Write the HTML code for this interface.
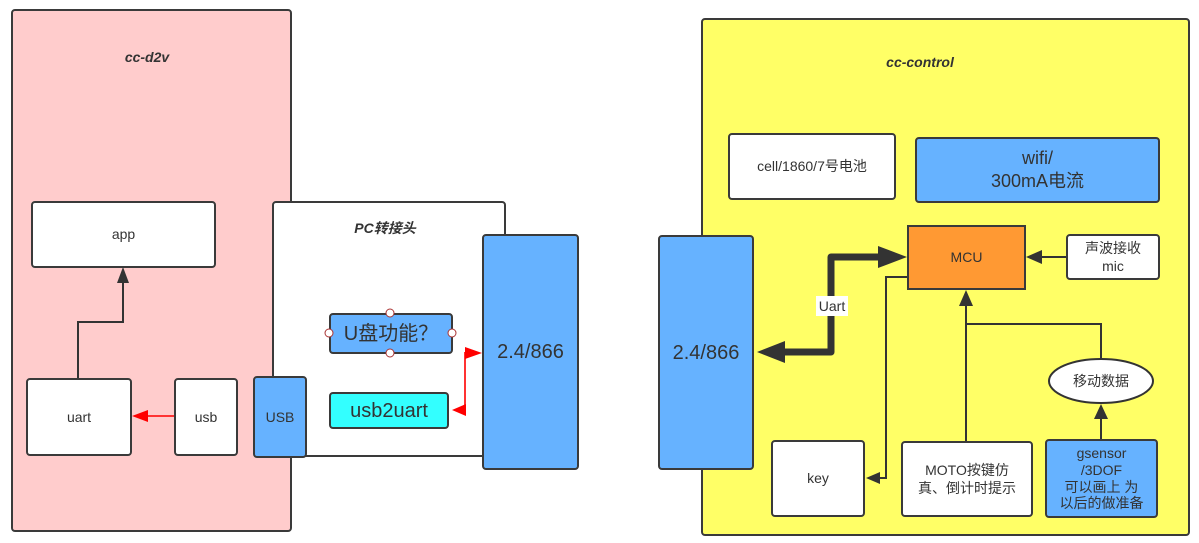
<!DOCTYPE html>
<html><head><meta charset="utf-8"><style>
body{margin:0;width:1199px;height:543px;background:#fff;position:relative;overflow:hidden;font-family:"Liberation Sans","Noto Sans CJK SC",sans-serif;color:#333}
.b{position:absolute;box-sizing:border-box;border:2px solid #3a3a3a;border-radius:4px;display:flex;align-items:center;justify-content:center;text-align:center;font-size:14px;line-height:1.3}
.t{position:absolute;font-weight:bold;font-style:italic;font-size:14px;transform:translateX(-50%)}
svg{position:absolute;left:0;top:0}
</style></head><body>
<div class="b" style="left:11px;top:9px;width:281px;height:523px;background:#ffcccc"></div>
<div class="t" style="left:147px;top:49px">cc-d2v</div>
<div class="b" style="left:31px;top:201px;width:185px;height:67px;background:#fff">app</div>
<div class="b" style="left:26px;top:378px;width:106px;height:78px;background:#fff">uart</div>
<div class="b" style="left:174px;top:378px;width:64px;height:78px;background:#fff">usb</div>
<div class="b" style="left:272px;top:201px;width:234px;height:256px;background:#fff"></div>
<div class="t" style="left:385px;top:218px">PC转接头</div>
<div class="b" style="left:253px;top:376px;width:54px;height:82px;background:#66b2ff">USB</div>
<div class="b" style="left:329px;top:313px;width:124px;height:41px;background:#66b2ff;font-size:20px">U盘功能？</div>
<div class="b" style="left:329px;top:392px;width:120px;height:37px;background:#33ffff;font-size:20px">usb2uart</div>
<div class="b" style="left:482px;top:234px;width:97px;height:236px;background:#66b2ff;font-size:20px">2.4/866</div>
<div class="b" style="left:701px;top:18px;width:489px;height:518px;background:#ffff66"></div>
<div class="t" style="left:920px;top:54px">cc-control</div>
<div class="b" style="left:728px;top:133px;width:168px;height:67px;background:#fff">cell/1860/7号电池</div>
<div class="b" style="left:915px;top:137px;width:245px;height:66px;background:#66b2ff;font-size:18px">wifi/<br>300mA电流</div>
<div class="b" style="left:658px;top:235px;width:96px;height:235px;background:#66b2ff;font-size:20px">2.4/866</div>
<div class="b" style="left:907px;top:225px;width:119px;height:65px;background:#ff9933;border-radius:0">MCU</div>
<div class="b" style="left:1066px;top:234px;width:94px;height:46px;background:#fff">声波接收<br>mic</div>
<div class="b" style="left:771px;top:440px;width:94px;height:77px;background:#fff">key</div>
<div class="b" style="left:901px;top:441px;width:132px;height:76px;background:#fff">MOTO按键仿<br>真、倒计时提示</div>
<div class="b" style="left:1045px;top:439px;width:113px;height:79px;background:#66b2ff;line-height:1.2">gsensor<br>/3DOF<br>可以画上 为<br>以后的做准备</div>
<svg width="1199" height="543">
<g fill="none" stroke="#333" stroke-width="2">
<polyline points="78,378 78,322 123,322 123,282"/>
<polyline points="907,277 886,277 886,478 876,478"/>
<polyline points="966,441 966,302"/>
<polyline points="1101,359 1101,324 966,324"/>
<line x1="1101" y1="439" x2="1101" y2="418"/>
<line x1="1066" y1="257" x2="1040" y2="257"/>
<polyline points="768,352 831,352 831,257 890,257" stroke-width="7" stroke-linejoin="round"/>
</g>
<g fill="#333">
<polygon points="123,267 117,283 129,283"/>
<polygon points="866,478 880,472 880,484"/>
<polygon points="966,290 959,306 973,306"/>
<polygon points="1101,404 1094,419 1108,419"/>
<polygon points="1026,257 1042,250 1042,264"/>
<polygon points="757,352 785,341 785,363"/>
<polygon points="907,257 878,246 878,268"/>
</g>
<ellipse cx="1101" cy="381" rx="52" ry="22" fill="#fff" stroke="#333" stroke-width="2"/>
<text x="1101" y="386" text-anchor="middle" font-size="14" fill="#333" font-family="Liberation Sans,Noto Sans CJK SC,sans-serif">移动数据</text>
<rect x="816" y="296" width="32" height="20" fill="#fff"/>
<text x="832" y="311" text-anchor="middle" font-size="14" fill="#333" font-family="Liberation Sans,sans-serif">Uart</text>
<g stroke="#ff3333" stroke-width="2" fill="none">
<line x1="174" y1="416" x2="145" y2="416"/>
<polyline points="462,410 465,410 465,353 470,353"/>
</g>
<g fill="#ff0000">
<polygon points="132,416 148,410 148,422"/>
<polygon points="452,410 466,404 466,416"/>
<polygon points="482,353 465,347 465,359"/>
</g>
<g fill="#fff" stroke="#a33" stroke-width="1">
<circle cx="390" cy="313" r="4"/><circle cx="390" cy="353" r="4"/>
<circle cx="329" cy="333" r="4"/><circle cx="452" cy="333" r="4"/>
</g>
</svg>
</body></html>
